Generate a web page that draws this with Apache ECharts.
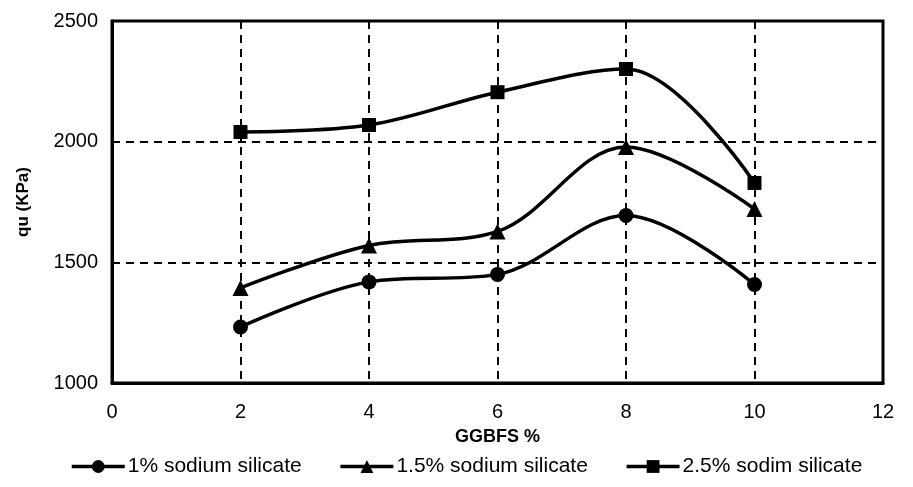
<!DOCTYPE html>
<html>
<head>
<meta charset="utf-8">
<script src="https://cdn.jsdelivr.net/npm/echarts@6/dist/echarts.min.js"></script>
<style>
  html, body { margin: 0; padding: 0; background: #fff; }
  #chart { width: 913px; height: 487px; }
</style>
</head>
<body>
<div id="chart"></div>
<script>
// GGBFS content (%)
const ggbfs = [2, 4, 6, 8, 10];
// qu (KPa) per sodium silicate dosage
const ss1 = [1232, 1419, 1450, 1694, 1408];
const ss15 = [1394, 1570, 1628, 1978, 1721];
const ss25 = [2040, 2069, 2205, 2301, 1829];

const font = "'Liberation Sans', Arial, sans-serif";

function pairs(ys) {
  return ggbfs.map((x, i) => [x, ys[i]]);
}

function lineSeries(name, ys, symbol, size) {
  return {
    name: name,
    type: "line",
    smooth: 0.35,
    data: pairs(ys),
    symbol: symbol,
    symbolSize: size,
    showAllSymbol: true,
    lineStyle: { color: "#000", width: 3.5 },
    itemStyle: { color: "#000" }
  };
}

const chart = echarts.init(document.getElementById("chart"));
chart.setOption({
  backgroundColor: "#fff",
  animation: false,
  textStyle: { fontFamily: font, color: "#000" },
  grid: {
    left: 112,
    right: 30,
    top: 21,
    bottom: 104,
    show: true,
    borderColor: "#000",
    borderWidth: 3
  },
  xAxis: {
    type: "value",
    min: 0,
    max: 12,
    interval: 2,
    name: "GGBFS %",
    nameLocation: "middle",
    nameGap: 45,
    nameTextStyle: { fontFamily: font, fontSize: 18, fontWeight: "bold", color: "#000" },
    axisLine: { show: true, lineStyle: { color: "#000", width: 3 } },
    axisTick: { show: false },
    axisLabel: { margin: 19, fontSize: 20, color: "#000", fontFamily: font },
    splitLine: { show: true, lineStyle: { color: "#000", width: 2, type: [8, 6] } }
  },
  yAxis: {
    type: "value",
    min: 1000,
    max: 2500,
    interval: 500,
    name: "qu (KPa)",
    nameLocation: "middle",
    nameGap: 80,
    nameTextStyle: { fontFamily: font, fontSize: 17, fontWeight: "bold", color: "#000" },
    axisLine: { show: true, lineStyle: { color: "#000", width: 3 } },
    axisTick: { show: true, inside: true, length: 4, lineStyle: { color: "#000", width: 1.5 } },
    axisLabel: {
      margin: 14,
      fontSize: 20,
      color: "#000",
      fontFamily: font,
      formatter: (v) => String(v)
    },
    splitLine: { show: true, lineStyle: { color: "#000", width: 2, type: [8, 6] } }
  },
  legend: {
    bottom: 5,
    left: 65,
    itemWidth: 53,
    itemHeight: 16,
    itemGap: 37,
    lineStyle: { width: 3.5 },
    textStyle: { fontFamily: font, fontSize: 21, color: "#000", padding: [0, 0, 0, -2] },
    data: ["1% sodium silicate", "1.5% sodium silicate", "2.5% sodim silicate"]
  },
  series: [
    lineSeries("1% sodium silicate", ss1, "circle", 15),
    lineSeries("1.5% sodium silicate", ss15, "triangle", 16),
    lineSeries("2.5% sodim silicate", ss25, "rect", 14)
  ]
});
</script>
</body>
</html>
